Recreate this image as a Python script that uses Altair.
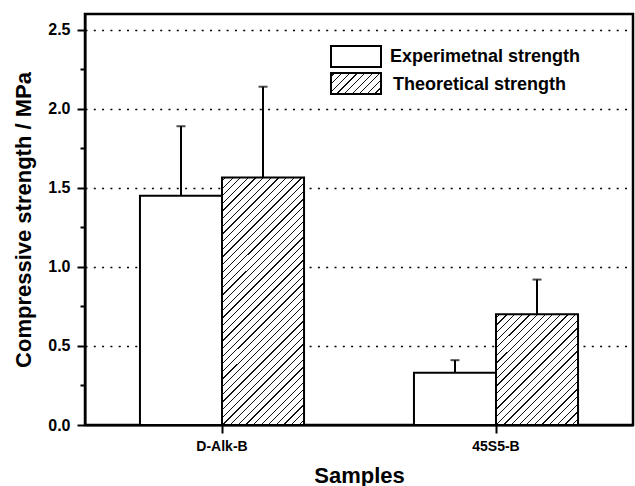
import math
import altair as alt
import pandas as pd

samples = ["D-Alk-B", "45S5-B"]
series_names = ["Experimetnal strength", "Theoretical strength"]
exp_values = [1.45, 0.33]
exp_upper = [1.89, 0.41]
theo_values = [1.565, 0.70]
theo_upper = [2.14, 0.92]

rows = []
for i, s in enumerate(samples):
    rows.append({"sample": s, "series": series_names[0], "value": exp_values[i], "upper": exp_upper[i]})
    rows.append({"sample": s, "series": series_names[1], "value": theo_values[i], "upper": theo_upper[i]})
df = pd.DataFrame(rows)

W, H = 548, 411
YMAX = 2.6
BAR_W = 82.0
FONT = "Liberation Sans"


def hatch(w, h, period=5.4, line=0.9):
    s = (w + h) / (w * w + h * h)
    L = (w + h) / math.sqrt(2)
    stops = [alt.GradientStop(offset=0, color="white")]
    k = 0
    while True:
        a = (k * period + 2.0) / L
        b = a + line / L
        if b >= 1:
            break
        stops += [
            alt.GradientStop(offset=a, color="white"),
            alt.GradientStop(offset=a, color="#111111"),
            alt.GradientStop(offset=b, color="#111111"),
            alt.GradientStop(offset=b, color="white"),
        ]
        k += 1
    stops.append(alt.GradientStop(offset=1, color="white"))
    return alt.LinearGradient(gradient="linear", stops=stops, x1=0, y1=0, x2=s * w, y2=s * h)


x_enc = alt.X(
    "sample:N",
    sort=samples,
    scale=alt.Scale(domain=samples, paddingInner=0, paddingOuter=0),
    axis=alt.Axis(
        title="Samples", labelAngle=0, labelFontSize=14, labelFontWeight="bold",
        titleFontSize=22, titleFontWeight="bold", titlePadding=12,
        tickSize=8, tickWidth=2, tickColor="black", domainWidth=2, domainColor="black",
        labelPadding=6, labelColor="black", titleColor="black", grid=False,
    ),
)
xo_enc = alt.XOffset(
    "series:N", sort=series_names,
    scale=alt.Scale(domain=series_names, paddingInner=0, paddingOuter=0.67),
)
y_ticks = [i * 0.25 for i in range(11)]
y_enc = alt.Y(
    "value:Q",
    scale=alt.Scale(domain=[0, YMAX], nice=False, zero=True),
    axis=alt.Axis(
        title="Compressive strength / MPa", values=y_ticks, format=".1f",
        labelExpr="datum.value % 0.5 == 0 ? datum.label : ''",
        labelFontSize=16, labelFontWeight="bold", labelColor="black",
        titleFontSize=22, titleFontWeight="bold", titleColor="black", titlePadding=12,
        tickSize={"condition": {"test": "datum.value % 0.5 != 0", "value": 5}, "value": 8},
        tickWidth=2, tickColor="black", domainWidth=2, domainColor="black", labelPadding=7,
        grid=True, gridColor="black", gridWidth=1.5, gridDash=[2, 6.3],
        gridOpacity={"condition": {"test": "datum.value % 0.5 != 0 || datum.value == 0", "value": 0}, "value": 1},
    ),
)

base = alt.Chart(df).encode(x=x_enc, xOffset=xo_enc, y=y_enc)

exp_bars = base.transform_filter(alt.datum.series == series_names[0]).mark_bar(
    fill="white", stroke="black", strokeWidth=2
)

layers = [exp_bars]
for i, s in enumerate(samples):
    h = theo_values[i] / YMAX * H
    layers.append(
        base.transform_filter(
            (alt.datum.series == series_names[1]) & (alt.datum.sample == s)
        ).mark_bar(fill=hatch(BAR_W, h), stroke="black", strokeWidth=2)
    )

err = base.mark_rule(color="black", strokeWidth=2).encode(y2="upper:Q")
caps = base.mark_tick(color="black", thickness=2, size=9).encode(y="upper:Q")
layers += [err, caps]

leg_df = pd.DataFrame({"series": series_names})
leg_x0, leg_x1 = 246, 296
leg_rows = [(32, 53), (59, 80)]
leg_text_x = [305, 308]
leg_text_y = [48, 76]
for i, name in enumerate(series_names):
    fill = "white" if i == 0 else hatch(leg_x1 - leg_x0, leg_rows[i][1] - leg_rows[i][0])
    ld = alt.Chart(leg_df).transform_filter(alt.datum.series == name)
    layers.append(
        ld.mark_rect(fill=fill, stroke="black", strokeWidth=2).encode(
            x=alt.value(leg_x0), x2=alt.value(leg_x1),
            y=alt.value(leg_rows[i][0]), y2=alt.value(leg_rows[i][1]),
        )
    )
    layers.append(
        ld.mark_text(align="left", baseline="alphabetic", fontSize=18, fontWeight="bold",
                     font=FONT, color="black").encode(
            x=alt.value(leg_text_x[i]), y=alt.value(leg_text_y[i]), text="series:N"
        )
    )

chart = alt.layer(*layers).properties(
    width=W, height=H,
    autosize=alt.AutoSizeParams(type="none"),
    padding={"left": 85, "top": 14, "right": 2, "bottom": 61},
    background="white",
).configure(font=FONT).configure_view(stroke="black", strokeWidth=2.5)

chart.save("out.html", embed_options={"renderer": "svg", "actions": False})
